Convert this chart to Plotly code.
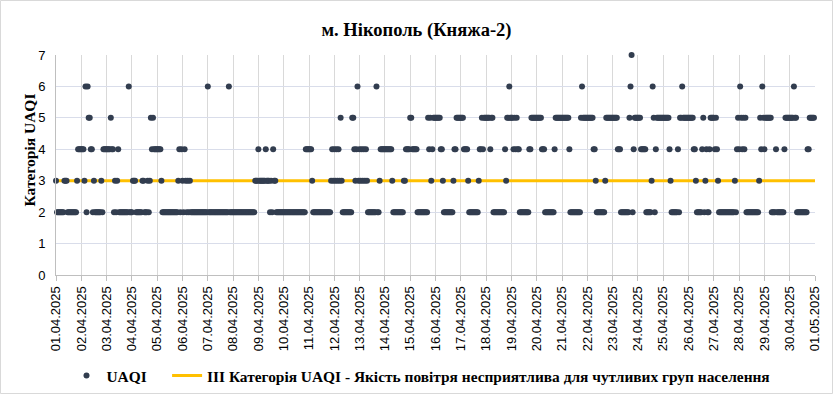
import pandas as pd
import plotly.graph_objects as go

# Hourly UAQI category, one 24-character string per day (01.04.2025 ... 30.04.2025)
day_dates = pd.date_range("2025-04-01", "2025-04-30", freq="D")
uaqi_hourly_by_day = [
    "322222223332222222223444",
    "444362655442322222232444",
    "444454423234222222222622",
    "233322222233222323545444",
    "444432222222222222223424",
    "324323232222222222222222",
    "622222222222222222226222",
    "222222222222222222222333",
    "433333343332324332222222",
    "222222222222222222222444",
    "444322222222222222222343",
    "434343532222222225543463",
    "434343432222222262234444",
    "444444432222222222334444",
    "554444422222222225453455",
    "555554432222222223445555",
    "555444432222222223445455",
    "555545522222222222435565",
    "554545442222222224455555",
    "555554442222222224555555",
    "555555542222222222565555",
    "555555443222222223555555",
    "555554442222222256724555",
    "555444442222236524555555",
    "555555432222224255655555",
    "555554432222245234224555",
    "545432222222222222223245",
    "465454522222222222235465",
    "455555522224222222245555",
    "555565522222222224455555",
]
threshold_dates = ["2025-04-01", "2025-05-01"]
threshold_level = 3
tick_dates = pd.date_range("2025-04-01", "2025-05-01", freq="D")
tick_labels = [d.strftime("%d.%m.%Y") for d in tick_dates]
y_ticks = [0, 1, 2, 3, 4, 5, 6, 7]

title_text = "м. Нікополь (Княжа-2)"
series_name = "UAQI"
threshold_name = "III Категорія UAQI - Якість повітря несприятлива для чутливих груп населення"
y_title = "Категорія UAQI"

times, values = [], []
for day, profile in zip(day_dates, uaqi_hourly_by_day):
    assert len(profile) == 24
    for h, ch in enumerate(profile):
        times.append(day + pd.Timedelta(hours=h))
        values.append(int(ch))

W, H = 833, 394
L, R, T, B = 56, 18, 55, 119
pw, ph = W - L - R, H - T - B

serif = "Liberation Serif"
sans = "Liberation Sans"

fig = go.Figure()
fig.add_trace(go.Scatter(
    x=pd.to_datetime(threshold_dates), y=[threshold_level] * len(threshold_dates),
    mode="lines", name="<b>" + threshold_name + "</b>", line=dict(color="#FFC000", width=3),
    legendrank=2, hoverinfo="skip"))
fig.add_trace(go.Scatter(
    x=times, y=values, mode="markers", name="<b>" + series_name + "</b>" + "\u00a0" * 4,
    marker=dict(color="#323D4F", size=6), cliponaxis=False, legendrank=1))

def px_x(px):
    return (px - L) / pw

def px_y(py):
    return (H - B - py) / ph

fig.update_layout(
    width=W, height=H,
    margin=dict(l=L, r=R, t=T, b=B, autoexpand=False),
    paper_bgcolor="white", plot_bgcolor="white",
    title=dict(text="<b>" + title_text + "</b>", x=0.5, xanchor="center",
               y=1 - 30 / H, yanchor="middle", yref="container",
               font=dict(family=serif, size=18.5, color="#000000")),
    showlegend=True,
    legend=dict(orientation="h", x=px_x(421), xanchor="center",
                y=px_y(376), yanchor="middle",
                font=dict(family=serif, size=15.4, color="#000000"),
                itemwidth=30, traceorder="normal"),
    xaxis=dict(type="date",
               range=[tick_dates[0], tick_dates[-1]],
               tickvals=list(tick_dates), ticktext=tick_labels,
               tickangle=-90, tickfont=dict(family=sans, size=13, color="#000000"),
               showgrid=True, gridcolor="#D9D9D9", gridwidth=1,
               showline=True, linecolor="#BFBFBF", linewidth=1,
               ticks="outside", ticklen=5, tickcolor="#BFBFBF", zeroline=False),
    yaxis=dict(range=[0, 7], tickvals=y_ticks,
               tickfont=dict(family=sans, size=13, color="#000000"),
               ticklabelstandoff=7,
               showgrid=True, gridcolor="#D9DDEA", gridwidth=1,
               showline=True, linecolor="#BFBFBF", linewidth=1,
               zeroline=False, ticks="", ticklen=0),
)
fig.add_annotation(text="<b>" + y_title + "</b>", textangle=-90,
                   xref="paper", yref="paper", x=px_x(18), y=px_y(150),
                   showarrow=False, font=dict(family=serif, size=15.5, color="#000000"))
fig.add_shape(type="rect", xref="paper", yref="paper",
              x0=px_x(0.5), x1=px_x(W - 0.5), y0=px_y(H - 0.5), y1=px_y(0.5),
              line=dict(color="#D9D9D9", width=1), fillcolor="rgba(0,0,0,0)", layer="below")

fig.write_html("out.html", config={"displayModeBar": False},
               post_script="document.body.style.margin='0px';")
